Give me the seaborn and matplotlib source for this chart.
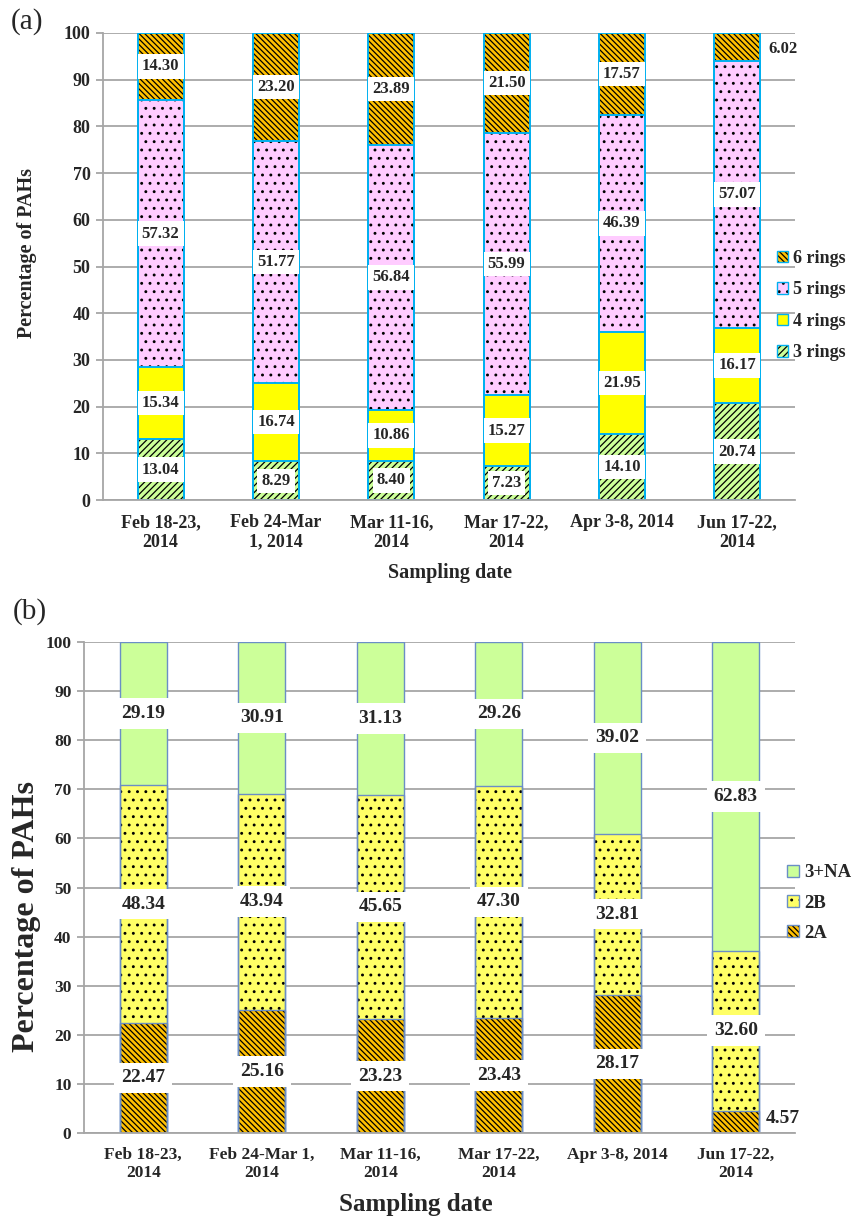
import numpy as np
import seaborn as sns
from matplotlib import pyplot as plt
from matplotlib.patches import Patch

dates_a = ["Feb 18-23,\n2014", "Feb 24-Mar\n1, 2014", "Mar 11-16,\n2014",
           "Mar 17-22,\n2014", "Apr 3-8, 2014", "Jun 17-22,\n2014"]
dates_b = ["Feb 18-23,\n2014", "Feb 24-Mar 1,\n2014", "Mar 11-16,\n2014",
           "Mar 17-22,\n2014", "Apr 3-8, 2014", "Jun 17-22,\n2014"]

rings_3 = [13.04, 8.29, 8.40, 7.23, 14.10, 20.74]
rings_4 = [15.34, 16.74, 10.86, 15.27, 21.95, 16.17]
rings_5 = [57.32, 51.77, 56.84, 55.99, 46.39, 57.07]
rings_6 = [14.30, 23.20, 23.89, 21.50, 17.57, 6.02]

group_2a = [22.47, 25.16, 23.23, 23.43, 28.17, 4.57]
group_2b = [48.34, 43.94, 45.65, 47.30, 32.81, 32.60]
group_3na = [29.19, 30.91, 31.13, 29.26, 39.02, 62.83]

GRID = "#a6a6a6"
BACK = "\\" * 6
FWD = "/" * 5

sns.set_theme(style="white")
plt.rcParams["font.family"] = ["Liberation Serif", "DejaVu Serif"]
plt.rcParams["font.weight"] = "bold"
plt.rcParams["hatch.color"] = "black"
plt.rcParams["hatch.linewidth"] = 0.9


def stacked(ax, dates, layers, edge, lw):
    bottom = np.zeros(len(dates))
    tops = []
    for name, vals, color, hatch in layers:
        bottom = bottom + np.array(vals)
        tops.append(bottom)
    # cumulative bars, back to front
    for (name, vals, color, hatch), top in reversed(list(zip(layers, tops))):
        sns.barplot(x=dates, y=top, color=color, hatch=hatch, edgecolor="black", linewidth=0,
                    saturation=1, width=0.4, errorbar=None, ax=ax)
    for top in tops:
        sns.barplot(x=dates, y=top, fill=False, color=edge, linewidth=lw,
                    saturation=1, width=0.4, errorbar=None, ax=ax)
    return tops


def style_axes(ax, tick_size, xtick_size):
    ax.set_xlim(-0.5, 5.5)
    ax.set_ylim(0, 100)
    ax.set_yticks(range(0, 101, 10))
    ax.set_axisbelow(True)
    ax.yaxis.grid(True, color=GRID, linewidth=1.3)
    ax.xaxis.grid(False)
    for s in ["top", "right"]:
        ax.spines[s].set_visible(False)
    for s in ["left", "bottom"]:
        ax.spines[s].set_color(GRID)
        ax.spines[s].set_linewidth(1.3)
    ax.set_xticks(np.arange(-0.5, 6, 1), minor=True)
    ax.tick_params(axis="x", which="major", length=0, pad=10, labelsize=xtick_size)
    ax.tick_params(axis="x", which="minor", length=5, color=GRID, width=1.3, direction="out")
    ax.tick_params(axis="y", length=5, color=GRID, width=1.3, direction="out", pad=4,
                   labelsize=tick_size, left=True)
    for t in ax.get_xticklabels() + ax.get_yticklabels():
        t.set_fontweight("bold")


def add_labels(ax, layers, tops, size, pad, outside):
    for li, ((name, vals, color, hatch), top) in enumerate(zip(layers, tops)):
        for i, v in enumerate(vals):
            c = top[i] - v / 2
            if (li, i) in outside:
                ax.text(outside[(li, i)][0], outside[(li, i)][1], f"{v:.2f}", ha="left", va="center",
                        fontsize=size, fontweight="bold", zorder=6)
            else:
                ax.text(i, c, f"{v:.2f}", ha="center", va="center", fontsize=size, fontweight="bold",
                        bbox=dict(boxstyle=f"square,pad={pad}", fc="white", ec="none"), zorder=6)


def add_legend(fig, ax, layers, edge, x, y, size, spacing):
    handles = [(Patch(fc=color, hatch=hatch, ec="black", lw=0), Patch(fc="none", ec=edge, lw=1))
               for name, vals, color, hatch in layers][::-1]
    names = [name for name, vals, color, hatch in layers][::-1]
    ax.legend(handles, names, loc="center left", bbox_to_anchor=(x, y), bbox_transform=fig.transFigure,
              frameon=False, handlelength=0.6, handleheight=0.6, handletextpad=0.3,
              labelspacing=spacing, prop={"weight": "bold", "size": size}, borderaxespad=0)


def main():
    fig = plt.figure(figsize=(8.58, 12.22), dpi=100)

    # panel (a)
    ax_a = fig.add_axes([0.120, 0.5908, 0.8065, 0.3822])
    layers_a = [("3 rings", rings_3, "#ccff99", FWD),
                ("4 rings", rings_4, "#ffff00", None),
                ("5 rings", rings_5, "#ffccff", ".."),
                ("6 rings", rings_6, "#ffc000", BACK)]
    tops_a = stacked(ax_a, dates_a, layers_a, "#00b0f0", 1.4)
    style_axes(ax_a, 13, 13)
    add_labels(ax_a, layers_a, tops_a, 12, 0.25, {(3, 5): (5.27, 96.6)})
    add_legend(fig, ax_a, layers_a, "#00b0f0", 0.897, 0.750, 13, 0.8)
    ax_a.set_ylabel("Percentage of PAHs", fontsize=14.5, fontweight="bold")
    ax_a.yaxis.set_label_coords(-0.095, 0.53)
    ax_a.set_xlabel("Sampling date", fontsize=14.5, fontweight="bold")
    ax_a.xaxis.set_label_coords(0.501, -0.135)

    # panel (b)
    ax_b = fig.add_axes([0.0979, 0.0728, 0.8287, 0.4018])
    layers_b = [("2A", group_2a, "#ffc000", BACK),
                ("2B", group_2b, "#ffff66", ".."),
                ("3+NA", group_3na, "#ccff99", None)]
    tops_b = stacked(ax_b, dates_b, layers_b, "#6a8ec6", 1.0)
    style_axes(ax_b, 12.5, 12.5)
    add_labels(ax_b, layers_b, tops_b, 14, 0.35, {(0, 5): (5.25, 3.0)})
    add_legend(fig, ax_b, layers_b, "#6a8ec6", 0.909, 0.261, 13.5, 0.7)
    ax_b.set_ylabel("Percentage of PAHs", fontsize=23, fontweight="bold")
    ax_b.yaxis.set_label_coords(-0.06, 0.44)
    ax_b.set_xlabel("Sampling date", fontsize=18, fontweight="bold")
    ax_b.xaxis.set_label_coords(0.466, -0.122)

    fig.text(27 / 858, 1 - 22 / 1222, "(a)", ha="center", va="center", fontsize=21, fontweight="normal")
    fig.text(30 / 858, 1 - 612 / 1222, "(b)", ha="center", va="center", fontsize=21, fontweight="normal")

    fig.savefig("out.png", dpi=100)
    plt.close()


if __name__ == '__main__':
    main()
